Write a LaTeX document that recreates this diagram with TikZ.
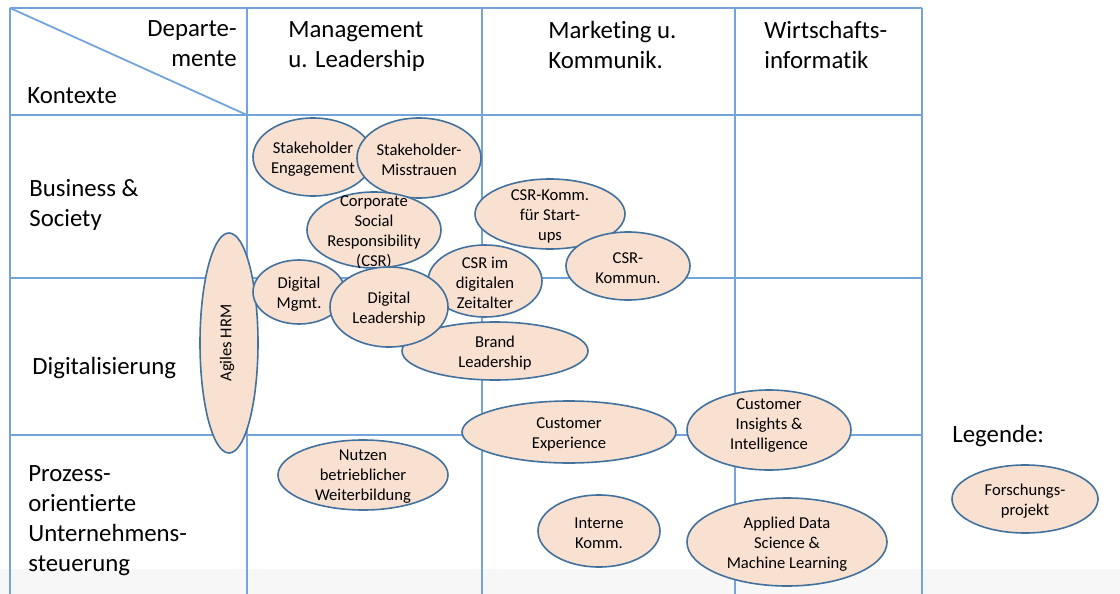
\documentclass[tikz,border=0pt]{standalone}
\usepackage{fontspec}
\setmainfont[Ligatures=NoCommon]{Carlito}
\usepackage{tikz}
\usepackage{xcolor}
\usetikzlibrary{shapes.geometric}

\definecolor{gridblue}{RGB}{115,165,220}
\definecolor{projline}{RGB}{65,113,156}
\definecolor{projfill}{RGB}{249,225,210}
\definecolor{bandgray}{RGB}{247,247,247}

\tikzset{
  grid/.style={draw=gridblue, line width=0.9pt},
  head/.style={inner sep=0pt, font=\fontsize{12.4}{15}\selectfont},
  proj/.style 2 args={ellipse, draw=projline, fill=projfill, line width=0.8pt,
    inner sep=0pt, minimum width=#1, minimum height=#2},
  ptxt/.style={inner sep=0pt, align=center, yshift=-1pt, font=\fontsize{8.3}{10}\selectfont}
}

\begin{document}
\begin{tikzpicture}[x=0.5pt, y=-0.5pt]
                \useasboundingbox (0,0) rectangle (1120,594);
                \fill[bandgray] (0,569) rectangle (1120,594);
                % raster
                \foreach \x in {10,247,482,735,922}
                    \draw[grid] (\x,8) -- (\x,594);
                \foreach \y in {8,115,278,435}
                    \draw[grid] (10,\y) -- (922,\y);
                \draw[grid] (10,8) -- (247,115);
                % kopfzeile
                \node[head, anchor=north east, align=right] (dep) at (237,20) {Departe-\\mente};
                \node[head, anchor=west] (kon) at (27,96) {Kontexte};
                \node[head, anchor=north west, align=left] (mgmt) at (288,21) {Management\\u. Leadership};
                \node[head, anchor=north west, align=left] (mark) at (548,21) {Marketing u.\\Kommunik.};
                \node[head, anchor=north west, align=left] (winf) at (764,21) {Wirtschafts-\\informatik};
                % kontexte
                \node[head, anchor=north west, align=left] (bus) at (29,179) {Business \&\\Society};
                \node[head, anchor=west] (dig) at (32,368) {Digitalisierung};
                \node[head, anchor=north west, align=left] (proz) at (28,465) {Prozess-\\orientierte\\Unternehmens-\\steuerung};
                % projekte
                \node[proj={29pt}{110pt}, label={[ptxt, yshift=1pt, xshift=-1pt, rotate=90]center:Agiles HRM}] (hrm) at (229,343) {};
                \node[proj={46pt}{32pt}, label={[ptxt]center:Digital\\Mgmt.}] (dmgmt) at (299,292) {};
                \node[proj={60pt}{39pt}, label={[ptxt]center:Stakeholder\\Engagement}] (seng) at (313,157) {};
                \node[proj={62pt}{40pt}, label={[ptxt]center:Stakeholder-\\Misstrauen}] (smis) at (419,158) {};
                \node[proj={67pt}{38pt}, label={[ptxt]center:Corporate\\Social\\Responsibility\\(CSR)}] (csr) at (374,230) {};
                \node[proj={57pt}{36pt}, label={[ptxt]center:CSR im\\digitalen\\Zeitalter}] (csrdz) at (485,281) {};
                \node[proj={93pt}{29pt}, label={[ptxt]center:Brand\\Leadership}] (brand) at (495,351) {};
                \node[proj={59pt}{40pt}, label={[ptxt]center:Digital\\Leadership}] (dlead) at (389,307) {};
                \node[proj={75pt}{35pt}, label={[ptxt]center:CSR-Komm.\\für Start-\\ups}] (csrsu) at (550,214) {};
                \node[proj={62pt}{34pt}, label={[ptxt]center:CSR-\\Kommun.}] (csrk) at (628,266) {};
                \node[proj={107pt}{31pt}, label={[ptxt]center:Customer\\Experience}] (cexp) at (569,432) {};
                \node[proj={82pt}{40pt}, label={[ptxt, yshift=3pt]center:Customer\\Insights \&\\Intelligence}] (cii) at (769,430) {};
                \node[proj={85pt}{35pt}, label={[ptxt]center:Nutzen\\betrieblicher\\Weiterbildung}] (nutz) at (363,475) {};
                \node[proj={61pt}{36pt}, label={[ptxt]center:Interne\\Komm.}] (ikomm) at (599,531) {};
                \node[proj={100pt}{44pt}, label={[ptxt]center:Applied Data\\Science \&\\Machine Learning}] (adsml) at (787,542) {};
                % legende
                \node[head, anchor=west] (leg) at (952,436) {Legende:};
                \node[proj={73pt}{34pt}, label={[ptxt]center:Forschungs-\\projekt}] (fp) at (1025,499) {};
            \end{tikzpicture}
\end{document}
